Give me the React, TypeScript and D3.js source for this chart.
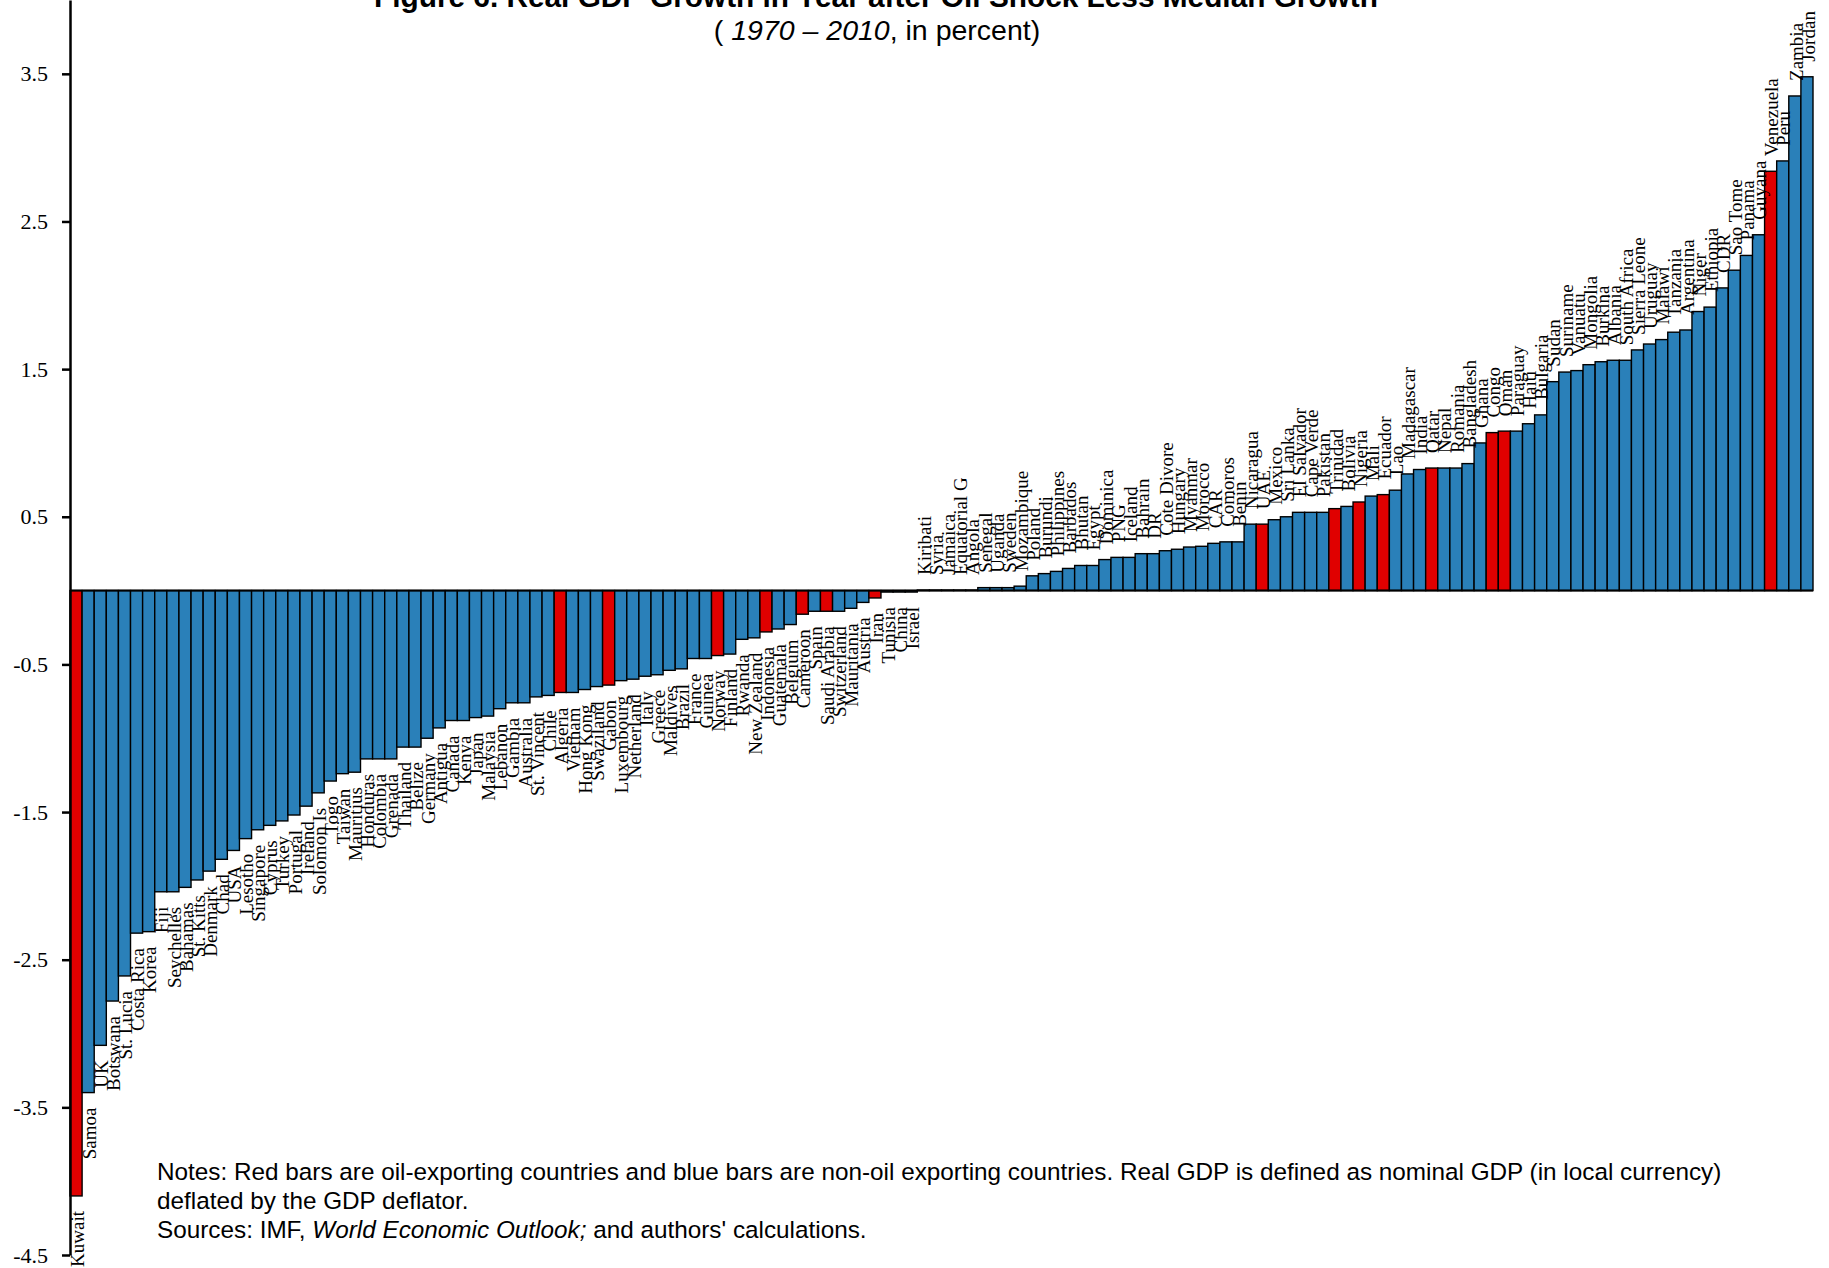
import React, { useEffect, useRef } from "react";
import * as d3 from "d3";

// countries sorted by growth differential (left to right)
const countries = [
  "Kuwait", "Samoa", "UK", "Botswana", "St. Lucia", "Costa Rica", "Korea", "Fiji",
  "Seychelles", "Bahamas", "St. Kitts", "Denmark", "Chad", "USA", "Lesotho", "Singapore",
  "Cyprus", "Turkey", "Portugal", "Ireland", "Solomon Is", "Togo", "Taiwan", "Mauritius",
  "Honduras", "Colombia", "Grenada", "Thailand", "Belize", "Germany", "Antigua", "Canada",
  "Kenya", "Japan", "Malaysia", "Lebanon", "Gambia", "Australia", "St. Vincent", "Chile",
  "Algeria", "Vietnam", "Hong Kong", "Swaziland", "Gabon", "Luxembourg", "Netherland", "Italy",
  "Greece", "Maldives", "Brazil", "France", "Guinea", "Norway", "Finland", "Rwanda",
  "New Zealand", "Indonesia", "Guatemala", "Belgium", "Cameroon", "Spain", "Saudi Arabia", "Switzerland",
  "Mauritania", "Austria", "Iran", "Tunisia", "China", "Israel",
  "Kiribati", "Syria", "Jamaica", "Equatorial G", "Angola", "Senegal", "Uganda", "Sweden",
  "Mozambique", "Poland", "Burundi", "Philippines", "Barbados", "Bhutan", "Egypt", "Dominica",
  "PNG", "Iceland", "Bahrain", "DR", "Cote Divore", "Hungary", "Myanmar", "Morocco",
  "CAR", "Comoros", "Benin", "Nicaragua", "UAE", "Mexico", "Sri Lanka", "El Salvador",
  "Cape Verde", "Pakistan", "Trinidad", "Bolivia", "Nigeria", "Mali", "Ecuador", "Lao",
  "Madagascar", "India", "Qatar", "Nepal", "Romania", "Bangladesh", "Ghana", "Congo",
  "Oman", "Paraguay", "Haiti", "Bulgaria", "Sudan", "Suriname", "Vanuatu", "Mongolia",
  "Burkina", "Albania", "South Africa", "Sierra Leone", "Uruguay", "Malawi", "Tanzania", "Argentina",
  "Niger", "Ethiopia", "CDR", "Sao Tome", "Panama", "Guyana", "Venezuela", "Peru",
  "Zambia", "Jordan",
];

// growth in year after oil shock less median growth, percent
const growth = [
  -4.10, -3.40, -3.08, -2.78, -2.61, -2.32, -2.31, -2.04,
  -2.04, -2.01, -1.96, -1.90, -1.82, -1.76, -1.68, -1.62,
  -1.59, -1.56, -1.52, -1.46, -1.37, -1.29, -1.24, -1.23,
  -1.14, -1.14, -1.14, -1.06, -1.06, -1.00, -0.93, -0.88,
  -0.88, -0.86, -0.85, -0.80, -0.76, -0.76, -0.72, -0.71,
  -0.69, -0.69, -0.67, -0.65, -0.64, -0.61, -0.60, -0.58,
  -0.57, -0.54, -0.53, -0.46, -0.46, -0.44, -0.43, -0.33,
  -0.32, -0.28, -0.26, -0.23, -0.16, -0.14, -0.14, -0.14,
  -0.12, -0.08, -0.05, -0.01, -0.01, -0.01,
  0.004, 0.004, 0.004, 0.004, 0.004, 0.02, 0.02, 0.02,
  0.03, 0.10, 0.115, 0.13, 0.15, 0.17, 0.17, 0.21,
  0.225, 0.225, 0.25, 0.25, 0.27, 0.28, 0.295, 0.30,
  0.32, 0.33, 0.33, 0.45, 0.45, 0.48, 0.50, 0.53,
  0.53, 0.53, 0.555, 0.57, 0.60, 0.64, 0.65, 0.68,
  0.79, 0.82, 0.83, 0.83, 0.83, 0.86, 1.00, 1.07,
  1.08, 1.08, 1.13, 1.19, 1.415, 1.48, 1.49, 1.53,
  1.55, 1.56, 1.56, 1.63, 1.67, 1.70, 1.75, 1.765,
  1.89, 1.92, 2.05, 2.17, 2.27, 2.41, 2.84, 2.91,
  3.35, 3.48,
];

const oilExporters = [
  "Kuwait", "Algeria", "Gabon", "Norway", "Indonesia", "Cameroon", "Saudi Arabia", "Iran",
  "UAE", "Trinidad", "Nigeria", "Ecuador", "Qatar", "Congo", "Oman", "Venezuela",
];

const yTicks = [3.5, 2.5, 1.5, 0.5, -0.5, -1.5, -2.5, -3.5, -4.5];

const BLUE = "#2A80B9";
const RED = "#E00000";
const SANS = "'Liberation Sans', Arial, sans-serif";
const SERIF = "'Liberation Serif', 'Times New Roman', serif";

const OilShockChart = ({ width = 1829, height = 1268 }) => {
  const chartRef = useRef(null);

  useEffect(() => {
    const svg = d3.select(chartRef.current);
    svg.selectAll("*").remove();

    const data = countries.map((name, i) => ({
      name,
      value: growth[i],
      oil: oilExporters.includes(name),
    }));

    const x = d3.scaleBand().domain(countries).range([70, 1813]).padding(0);
    const y = d3.scaleLinear().domain([-4.5, 4]).range([1255, 0]);

    svg
      .append("g")
      .selectAll("rect")
      .data(data)
      .join("rect")
      .attr("x", (d) => x(d.name))
      .attr("width", x.bandwidth())
      .attr("y", (d) => y(Math.max(0, d.value)))
      .attr("height", (d) => Math.abs(y(d.value) - y(0)))
      .attr("fill", (d) => (d.oil ? RED : BLUE))
      .attr("stroke", "#000")
      .attr("stroke-width", 1.4);

    // zero line
    svg
      .append("line")
      .attr("x1", 70)
      .attr("x2", x.range()[1])
      .attr("y1", y(0))
      .attr("y2", y(0))
      .attr("stroke", "#000")
      .attr("stroke-width", 2);

    // country labels, rotated
    svg
      .append("g")
      .selectAll("text")
      .data(data)
      .join("text")
      .attr("transform", (d) => {
        const cx = x(d.name) + x.bandwidth() / 2 + 1;
        const cy = d.value < 0 ? y(d.value) + 15 : y(d.value) - 15;
        return `translate(${cx},${cy}) rotate(-90)`;
      })
      .attr("text-anchor", (d) => (d.value < 0 ? "end" : "start"))
      .attr("dy", "0.35em")
      .attr("font-family", SERIF)
      .attr("font-size", 19)
      .attr("fill", "#000")
      .text((d) => d.name);

    // y axis
    const axis = svg
      .append("g")
      .attr("transform", "translate(70,0)")
      .call(
        d3
          .axisLeft(y)
          .tickValues(yTicks)
          .tickFormat((d) => d.toFixed(1))
          .tickSize(8)
          .tickSizeOuter(0)
          .tickPadding(14)
      );
    axis.select(".domain").attr("stroke-width", 2.5);
    axis.selectAll(".tick line").attr("stroke-width", 2.5);
    axis
      .selectAll(".tick text")
      .attr("font-family", SERIF)
      .attr("font-size", 22)
      .attr("fill", "#000");

    // titles (top of the figure is cut off in the source)
    svg
      .append("text")
      .attr("x", 876)
      .attr("y", 7)
      .attr("text-anchor", "middle")
      .attr("font-family", SANS)
      .attr("font-weight", "bold")
      .attr("font-size", 29.8)
      .text("Figure 6. Real GDP Growth in Year after Oil Shock Less Median Growth");

    const sub = svg
      .append("text")
      .attr("x", 877)
      .attr("y", 40)
      .attr("text-anchor", "middle")
      .attr("font-family", SANS)
      .attr("font-size", 28.5);
    sub.append("tspan").text("( ");
    sub.append("tspan").attr("font-style", "italic").text("1970 – 2010");
    sub.append("tspan").text(", in percent)");

    // notes
    const notes = svg
      .append("g")
      .attr("font-family", SANS)
      .attr("font-size", 24.3)
      .attr("fill", "#000");
    notes
      .append("text")
      .attr("x", 157)
      .attr("y", 1180)
      .text(
        "Notes: Red bars are oil-exporting countries and blue bars are non-oil exporting countries. Real GDP is defined as nominal GDP (in local currency)"
      );
    notes.append("text").attr("x", 157).attr("y", 1209).text("deflated by the GDP deflator.");
    const src = notes.append("text").attr("x", 157).attr("y", 1238);
    src.append("tspan").text("Sources: IMF,  ");
    src.append("tspan").attr("font-style", "italic").text("World Economic Outlook;");
    src.append("tspan").text(" and authors' calculations.");
  }, [width, height]);

  return (
    <svg
      ref={chartRef}
      width={width}
      height={height}
      style={{ position: "absolute", left: 0, top: 0, background: "#fff" }}
    ></svg>
  );
};

export default function App() {
  return <OilShockChart />;
}
